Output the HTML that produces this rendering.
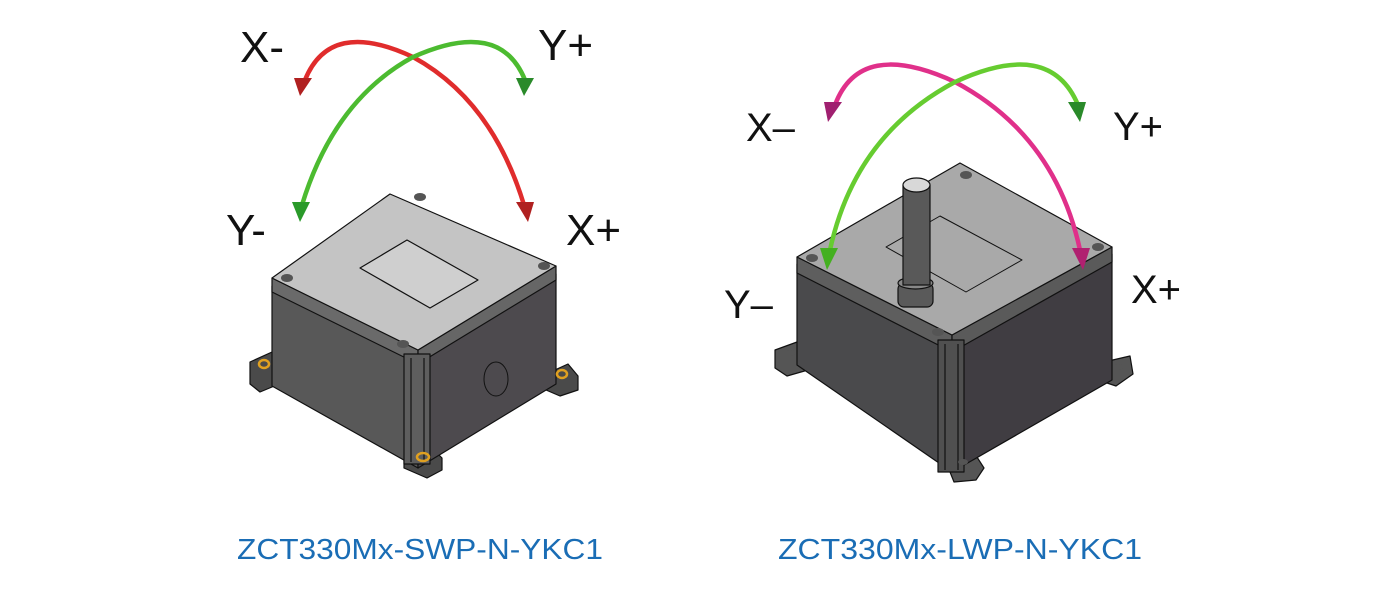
<!DOCTYPE html>
<html><head><meta charset="utf-8"><style>
html,body{margin:0;padding:0;background:#fff;width:1400px;height:612px;overflow:hidden}
svg{display:block}
.l{font-family:"Liberation Sans",sans-serif;fill:#111}
.t{font-family:"Liberation Sans","Noto Sans CJK SC",sans-serif;fill:#1a6db5;font-size:29px}
</style></head><body>
<svg width="1400" height="612" viewBox="0 0 1400 612" xmlns="http://www.w3.org/2000/svg">

<!-- LEFT BOX -->
<g stroke="#111" stroke-width="1.2" stroke-linejoin="round">
  <!-- flanges -->
  <polygon points="250,362 272,352 284,366 284,382 260,392 250,384" fill="#4a4a4a"/>
  <polygon points="404,454 430,446 442,458 442,470 427,478 404,468" fill="#4a4a4a"/>
  <polygon points="546,374 568,364 578,376 578,390 560,396 546,390" fill="#4a4a4a"/>
  <!-- left face -->
  <polygon points="272,286 418,360 418,468 272,386" fill="#585858"/>
  <!-- right face -->
  <polygon points="418,360 556,274 556,384 418,468" fill="#4d4a4e"/>
  <!-- lid band -->
  <polygon points="272,278 418,350 418,364 272,292" fill="#6a6a6a"/>
  <polygon points="418,350 556,266 556,280 418,364" fill="#666"/>
  <!-- corner column -->
  <rect x="404" y="354" width="26" height="110" fill="#5e5e5e"/>
  <line x1="411" y1="358" x2="411" y2="462"/>
  <line x1="424" y1="358" x2="424" y2="462"/>
  <!-- lid top -->
  <polygon points="390,194 272,278 418,350 556,266" fill="#c4c4c4"/>
  <polygon points="360,268 407,240 478,280 430,308" fill="#cfcfcf"/>
  <ellipse cx="496" cy="379" rx="12" ry="17" fill="none" stroke-width="1"/>
</g>
<g fill="#555"><ellipse cx="420" cy="197" rx="6" ry="4"/><ellipse cx="287" cy="278" rx="6" ry="4"/><ellipse cx="544" cy="266" rx="6" ry="4"/><ellipse cx="403" cy="344" rx="6" ry="4"/></g>
<g fill="none" stroke="#e0a020" stroke-width="2.5"><ellipse cx="264" cy="364" rx="5" ry="4"/><ellipse cx="423" cy="457" rx="6" ry="4"/><ellipse cx="562" cy="374" rx="5" ry="4"/></g>

<!-- left arcs -->
<path d="M305,80 Q330,18 413,57 Q492,100 524,205" fill="none" stroke="#e02c2c" stroke-width="4.5"/>
<path d="M525,80 Q500,18 413,57 Q334,100 302,205" fill="none" stroke="#4cbb30" stroke-width="4.5"/>
<polygon points="294,78 312,78 300,96" fill="#b02020"/>
<polygon points="516,78 534,78 524,96" fill="#2a8a2a"/>
<polygon points="292,202 310,202 300,222" fill="#2a9a2a"/>
<polygon points="516,202 534,202 528,222" fill="#b02020"/>
<text class="l" x="240" y="62" font-size="44">X-</text>
<text class="l" x="538" y="60" font-size="44">Y+</text>
<text class="l" x="226" y="245" font-size="44">Y-</text>
<text class="l" x="566" y="245" font-size="44">X+</text>

<!-- RIGHT BOX -->
<g stroke="#111" stroke-width="1.2" stroke-linejoin="round">
  <polygon points="775,350 797,342 808,356 808,370 787,376 775,368" fill="#555"/>
  <polygon points="946,462 975,454 984,468 976,480 954,482" fill="#555"/>
  <polygon points="1104,362 1130,356 1133,374 1116,386 1104,382" fill="#555"/>
  <polygon points="797,264 952,345 952,472 797,365" fill="#4a4a4c"/>
  <polygon points="952,345 1112,254 1112,380 952,472" fill="#403d42"/>
  <polygon points="797,257 952,335 952,352 797,273" fill="#5e5e5e"/>
  <polygon points="952,335 1112,247 1112,262 952,352" fill="#5a5a5a"/>
  <rect x="938" y="340" width="26" height="132" fill="#505050"/>
  <line x1="945" y1="344" x2="945" y2="470"/><line x1="958" y1="344" x2="958" y2="470"/>
  <polygon points="960,163 797,257 952,335 1112,247" fill="#a9a9a9"/>
  <polygon points="886,247 940,216 1022,260 966,292" fill="none" stroke-width="1"/>
  <rect x="898" y="283" width="35" height="24" rx="6" fill="#5a5a5a"/>
  <ellipse cx="915.5" cy="283" rx="17.5" ry="6" fill="#888"/>
  <rect x="903" y="185" width="27" height="100" fill="#595959"/>
  <ellipse cx="916.5" cy="185" rx="13.5" ry="7" fill="#d8d8d8"/>
</g>
<g fill="#555"><ellipse cx="966" cy="175" rx="6" ry="4"/><ellipse cx="812" cy="258" rx="6" ry="4"/><ellipse cx="1098" cy="247" rx="6" ry="4"/><ellipse cx="938" cy="332" rx="6" ry="4"/><ellipse cx="790" cy="353" rx="5" ry="3"/><ellipse cx="963" cy="462" rx="5" ry="3"/><ellipse cx="1118" cy="367" rx="5" ry="3"/></g>

<path d="M835,105 Q860,38 955,82 Q1055,135 1080,250" fill="none" stroke="#e0308a" stroke-width="4.5"/>
<path d="M1078,105 Q1050,38 955,82 Q855,135 830,250" fill="none" stroke="#66cc30" stroke-width="4.5"/>
<polygon points="824,102 842,102 828,122" fill="#a02070"/>
<polygon points="1068,102 1086,102 1080,122" fill="#2a8a2a"/>
<polygon points="820,248 838,248 827,270" fill="#44b020"/>
<polygon points="1072,248 1090,248 1083,270" fill="#b02070"/>
<text class="l" x="746" y="141" font-size="40">X–</text>
<text class="l" x="1113" y="140" font-size="40">Y+</text>
<text class="l" x="724" y="318" font-size="40">Y–</text>
<text class="l" x="1131" y="303" font-size="40">X+</text>

<text class="t" x="237" y="559" textLength="366" lengthAdjust="spacingAndGlyphs">ZCT330Mx-SWP-N-YKC1</text>
<text class="t" x="778" y="559" textLength="364" lengthAdjust="spacingAndGlyphs">ZCT330Mx-LWP-N-YKC1</text>
</svg>
</body></html>
